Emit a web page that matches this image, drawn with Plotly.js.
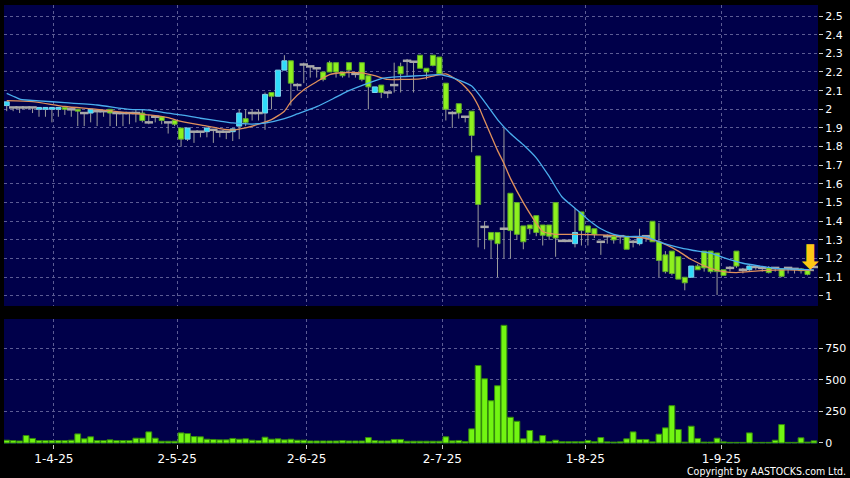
<!DOCTYPE html>
<html><head><meta charset="utf-8">
<script src="https://cdn.plot.ly/plotly-3.0.1.min.js"></script>
<style>html,body{margin:0;padding:0;background:#000;}#chart{width:850px;height:478px;}</style>
</head><body><div id="chart"></div>
<script>
// ---- data ----
const openP = [2.02,2.01,2.01,2.01,2.01,2.00,2.00,2.00,2.00,2.01,
 2.00,2.00,1.98,1.98,1.99,1.99,2.00,1.98,1.98,1.98,
 1.98,1.98,1.93,1.96,1.96,1.93,1.94,1.90,1.84,1.88,
 1.88,1.88,1.89,1.88,1.88,1.88,1.91,1.95,1.98,1.98,
 1.98,2.09,2.07,2.21,2.26,2.13,2.24,2.23,2.22,2.20,
 2.25,2.25,2.20,2.25,2.19,2.25,2.18,2.09,2.13,2.09,
 2.13,2.23,2.26,2.255,2.29,2.22,2.29,2.28,2.14,1.98,
 2.03,1.96,1.99,1.75,1.37,1.34,1.34,1.36,1.55,1.50,
 1.375,1.38,1.43,1.38,1.38,1.50,1.295,1.295,1.28,1.45,
 1.375,1.36,1.29,1.32,1.32,1.32,1.32,1.29,1.28,1.32,
 1.40,1.29,1.22,1.24,1.21,1.10,1.10,1.16,1.24,1.24,
 1.23,1.14,1.15,1.24,1.14,1.14,1.155,1.15,1.15,1.15,
 1.145,1.15,1.145,1.145,1.14,1.155];
const highP = [2.04,2.01,2.01,2.01,2.01,2.01,2.01,2.01,2.01,2.01,
 2.00,2.00,1.98,2.00,1.99,1.99,2.00,1.98,1.98,1.98,
 2.00,2.00,1.97,1.96,1.96,1.93,1.94,1.90,1.90,1.88,
 1.88,1.90,1.89,1.88,1.88,1.90,2.00,2.00,2.00,2.00,
 2.09,2.09,2.21,2.29,2.26,2.14,2.25,2.23,2.22,2.20,
 2.26,2.25,2.20,2.25,2.19,2.25,2.18,2.12,2.13,2.09,
 2.25,2.25,2.27,2.255,2.29,2.22,2.29,2.28,2.14,1.99,
 2.03,1.96,1.99,1.75,1.40,1.34,1.34,1.90,1.55,1.50,
 1.375,1.38,1.43,1.38,1.38,1.50,1.295,1.295,1.47,1.45,
 1.375,1.36,1.29,1.33,1.32,1.32,1.32,1.30,1.36,1.32,
 1.40,1.39,1.24,1.24,1.21,1.10,1.16,1.17,1.24,1.24,
 1.23,1.14,1.16,1.24,1.15,1.17,1.16,1.15,1.16,1.15,
 1.145,1.15,1.145,1.15,1.14,1.155];
const lowP = [1.99,1.99,1.98,2.00,1.98,1.96,1.96,1.93,1.96,1.97,
 1.96,1.91,1.91,1.93,1.91,1.96,1.91,1.91,1.91,1.92,
 1.93,1.93,1.92,1.93,1.92,1.87,1.91,1.80,1.83,1.82,
 1.85,1.85,1.82,1.85,1.84,1.83,1.84,1.91,1.94,1.94,
 1.89,2.00,2.07,2.21,2.02,2.10,2.14,2.17,2.17,2.15,
 2.20,2.17,2.17,2.17,2.17,2.15,2.00,2.09,2.06,2.06,
 2.09,2.09,2.18,2.09,2.22,2.16,2.23,2.19,1.94,1.90,
 1.95,1.93,1.77,1.26,1.25,1.20,1.10,1.20,1.20,1.30,
 1.25,1.33,1.32,1.27,1.30,1.21,1.29,1.29,1.26,1.27,
 1.27,1.31,1.22,1.28,1.28,1.28,1.25,1.26,1.27,1.29,
 1.29,1.10,1.12,1.11,1.09,1.03,1.10,1.14,1.13,1.12,
 1.005,1.11,1.13,1.15,1.12,1.13,1.14,1.13,1.12,1.13,
 1.10,1.12,1.12,1.12,1.11,1.155];
const closeP = [2.04,2.01,2.01,2.01,2.01,2.01,2.01,2.01,2.01,2.00,
 2.00,1.99,1.98,2.00,1.99,1.99,1.98,1.98,1.98,1.98,
 1.98,1.94,1.93,1.96,1.94,1.93,1.92,1.84,1.90,1.88,
 1.88,1.90,1.89,1.88,1.88,1.895,1.98,1.93,1.98,1.98,
 2.08,2.07,2.21,2.26,2.14,2.13,2.24,2.23,2.22,2.16,
 2.20,2.20,2.18,2.21,2.19,2.16,2.12,2.12,2.09,2.09,
 2.13,2.19,2.26,2.255,2.22,2.20,2.235,2.19,2.00,1.98,
 1.98,1.96,1.86,1.49,1.37,1.30,1.28,1.36,1.35,1.33,
 1.29,1.36,1.34,1.325,1.32,1.31,1.295,1.295,1.34,1.35,
 1.34,1.33,1.29,1.32,1.30,1.32,1.25,1.29,1.31,1.32,
 1.29,1.19,1.13,1.12,1.09,1.07,1.16,1.14,1.15,1.13,
 1.13,1.11,1.15,1.16,1.14,1.16,1.155,1.15,1.125,1.15,
 1.105,1.15,1.145,1.135,1.115,1.155];
const volume = [22,19,16,59,36,19,19,19,19,19,
 22,72,33,49,19,19,25,19,19,19,
 38,38,88,38,14,14,14,80,75,51,
 49,30,28,25,25,36,30,33,22,19,
 46,30,33,25,30,22,22,16,16,16,
 16,16,19,16,16,16,43,19,16,16,
 28,28,14,14,14,14,14,14,49,17,
 20,12,112,614,509,335,454,933,204,172,
 33,99,14,59,12,22,10,10,10,10,
 20,10,43,9,7,9,33,88,28,28,
 9,70,120,296,107,7,133,36,7,7,
 38,9,5,5,5,80,5,5,5,22,
 146,5,5,41,7,17];
const ma10Day = [0,4,9,14,19,22,25,27,31,33,35,37,39,41,43,44,46,48,50,52,55,57,59,61,64,66,68,70,71,72,73,74,75,76,77,78,80,82,83,85,88,92,96,99,101,104,106,109,111,113,117,121,125];
const ma10 = [2.046,2.041,2.015,2.0,1.98,1.97,1.955,1.935,1.91,1.897,1.889,1.9,1.92,1.945,1.99,2.04,2.105,2.148,2.186,2.196,2.195,2.18,2.16,2.16,2.163,2.178,2.19,2.15,2.12,2.08,2.02,1.94,1.86,1.78,1.71,1.63,1.5,1.39,1.345,1.33,1.33,1.327,1.318,1.309,1.291,1.24,1.195,1.148,1.13,1.125,1.136,1.139,1.136];
const ma20Day = [0,1,2,3,5,9,14,19,22,25,27,30,33,35,38,40,43,45,48,51,53,56,58,61,64,67,69,70,72,74,76,78,80,82,84,86,88,90,92,94,96,99,101,104,106,109,111,114,117,119,122,125];
const ma20 = [2.085,2.07,2.055,2.05,2.045,2.036,2.023,2.0,1.996,1.979,1.97,1.952,1.937,1.927,1.921,1.926,1.95,1.975,2.014,2.065,2.10,2.14,2.165,2.175,2.18,2.186,2.17,2.157,2.125,2.04,1.945,1.87,1.81,1.74,1.64,1.53,1.47,1.41,1.36,1.33,1.318,1.318,1.29,1.26,1.246,1.229,1.205,1.175,1.158,1.148,1.143,1.139];
const monthLabels = ['1-4-25','2-5-25','2-6-25','2-7-25','1-8-25','1-9-25'];
const priceTicks = [1,1.1,1.2,1.3,1.4,1.5,1.6,1.7,1.8,1.9,2,2.1,2.2,2.3,2.4,2.5];
const volTicks = [0,250,500,750];

// ---- build traces ----
const N = closeP.length;
const day = closeP.map((_, i) => i);
const upX=[],upB=[],upH=[], dnX=[],dnB=[],dnH=[], djX=[],djY=[], wX=[],wY=[];
for (let i=0;i<N;i++){
  const o=openP[i], c=closeP[i], top=Math.max(o,c), bot=Math.min(o,c);
  if (c>o){upX.push(i);upB.push(o);upH.push(c-o);}
  else if (c<o){dnX.push(i);dnB.push(c);dnH.push(o-c);}
  else {djX.push(i);djY.push(c);}
  if (highP[i]>top){wX.push(i,i,null);wY.push(top,highP[i],null);}
  if (lowP[i]<bot){wX.push(i,i,null);wY.push(bot,lowP[i],null);}
}
const traces = [
  {type:'bar',x:upX,y:upH,base:upB,width:0.78,xaxis:'x',yaxis:'y',
   marker:{color:'#2fdcfa',line:{color:'#7fd4ee',width:1}}},
  {type:'bar',x:dnX,y:dnH,base:dnB,width:0.78,xaxis:'x',yaxis:'y',
   marker:{color:'#8ef01e',line:{color:'#5caa28',width:1}}},
  {type:'scatter',mode:'lines',x:wX,y:wY,xaxis:'x',yaxis:'y',
   line:{color:'#9c9c9c',width:1},connectgaps:false},
  {type:'scatter',mode:'markers',x:djX,y:djY,xaxis:'x',yaxis:'y',
   marker:{symbol:'line-ew',size:6,line:{color:'#a8a8a8',width:2.5}}},
  {type:'scatter',mode:'lines',x:ma10Day,y:ma10,xaxis:'x',yaxis:'y',
   line:{color:'#e0905c',width:1.3,shape:'spline',smoothing:0.6}},
  {type:'scatter',mode:'lines',x:ma20Day,y:ma20,xaxis:'x',yaxis:'y',
   line:{color:'#4aaeee',width:1.3,shape:'spline',smoothing:0.6}},
  {type:'bar',x:day,y:volume,width:0.9,xaxis:'x',yaxis:'y2',
   marker:{color:'#72f512',line:{color:'#348a0c',width:1}}}
];

const gridC = '#5c5c94';
const tickFont = {family:'DejaVu Sans, sans-serif',size:11,color:'#ffffff'};
const layout = {
  width:850,height:478,
  margin:{l:4,r:32,t:5,b:34},
  paper_bgcolor:'#000000',plot_bgcolor:'#00004a',
  showlegend:false,hovermode:false,barmode:'overlay',
  xaxis:{anchor:'y2',range:[-0.42,125.63],
    tickvals:[7.3,26.4,46.45,67.45,89.6,110.65],ticktext:monthLabels,
    ticks:'outside',ticklen:4,tickcolor:'#cccccc',
    tickfont:{family:'DejaVu Sans, sans-serif',size:12,color:'#ffffff'},
    showgrid:true,gridcolor:gridC,griddash:'3px,3px',gridwidth:1,zeroline:false,showline:false},
  yaxis:{domain:[0.3144,1],side:'right',range:[0.946,2.559],
    tickvals:priceTicks,ticktext:priceTicks.map(v=>String(v)),
    ticks:'outside',ticklen:4,tickcolor:'#cccccc',tickfont:tickFont,
    showgrid:true,gridcolor:gridC,griddash:'3px,3px',gridwidth:1,zeroline:false,showline:false},
  yaxis2:{domain:[0,0.2847],side:'right',range:[-8,983],
    tickvals:volTicks,ticktext:volTicks.map(v=>String(v)),
    ticks:'outside',ticklen:4,tickcolor:'#cccccc',tickfont:tickFont,
    showgrid:true,gridcolor:gridC,griddash:'3px,3px',gridwidth:1,zeroline:false,showline:false},
  annotations:[
    {xref:'paper',yref:'paper',x:1.037,y:-0.062,xanchor:'right',yanchor:'middle',showarrow:false,
     text:'Copyright by AASTOCKS.com Ltd.',
     font:{family:'DejaVu Sans Condensed, DejaVu Sans, sans-serif',size:10.5,color:'#ffffff'}},
    {xref:'x',yref:'y',x:N-1,y:closeP[N-1],xanchor:'center',yanchor:'bottom',xshift:-3,yshift:-12,
     showarrow:false,text:'⬇',font:{family:'DejaVu Sans, sans-serif',size:34,color:'#ffc814'}}
  ]
};
Plotly.newPlot('chart',traces,layout,{staticPlot:true,displayModeBar:false});
</script>
</body></html>
